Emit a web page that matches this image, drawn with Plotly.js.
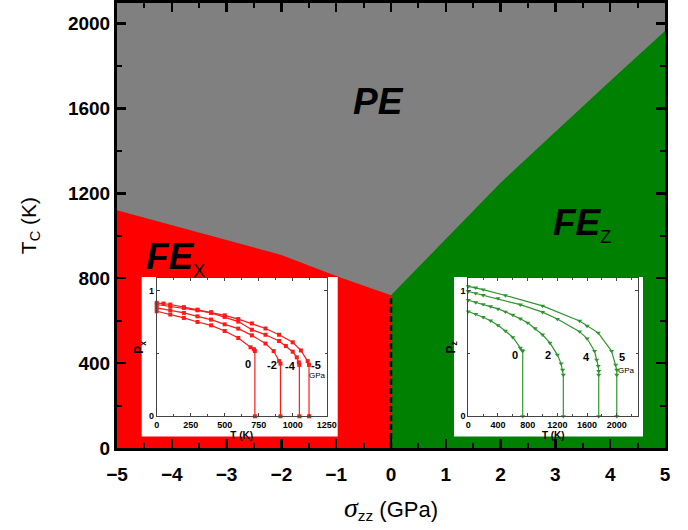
<!DOCTYPE html>
<html><head><meta charset="utf-8">
<script src="https://cdn.plot.ly/plotly-3.0.1.min.js"></script>
<style>html,body{margin:0;padding:0;background:#fff}#chart{width:688px;height:530px}</style>
</head><body><div id="chart"></div>
<script>
// ---- main phase diagram ----
const sigmaRange = [-5, 5];
const tcRange = [0, 2097];
const sigmaFEx = [-5, -2, -1, 0];
const tcFEx = [1120, 910, 810, 720];
const sigmaFEz = [0, 1, 2, 3, 4, 5];
const tcFEz = [720, 985, 1250, 1490, 1730, 1965];

// ---- left inset: Px vs T (stress 0, -2, -4, -5 GPa) ----
const pxLabels = ['0', '-2', '-4', '-5'];
const pxT0 = [0, 100, 200, 300, 400, 500, 600, 690, 715, 722, 722];
const pxP0 = [0.837, 0.811, 0.784, 0.752, 0.725, 0.680, 0.624, 0.550, 0.535, 0.520, 0];
const pxT2 = [0, 100, 200, 300, 400, 500, 600, 700, 800, 860, 900, 910, 910];
const pxP2 = [0.864, 0.845, 0.824, 0.797, 0.771, 0.733, 0.699, 0.645, 0.580, 0.520, 0.440, 0.420, 0];
const pxT4 = [0, 100, 200, 300, 400, 500, 600, 700, 800, 900, 950, 1000, 1030, 1045, 1049, 1049];
const pxP4 = [0.891, 0.877, 0.864, 0.845, 0.824, 0.792, 0.755, 0.690, 0.650, 0.600, 0.560, 0.515, 0.470, 0.430, 0.410, 0];
const pxT5 = [0, 50, 100, 200, 300, 400, 500, 600, 700, 800, 900, 1000, 1060, 1110, 1120, 1120];
const pxP5 = [0.904, 0.899, 0.891, 0.870, 0.850, 0.830, 0.805, 0.775, 0.740, 0.700, 0.650, 0.590, 0.525, 0.440, 0.410, 0];

// ---- right inset: Pz vs T (stress 0, 2, 4, 5 GPa) ----
const pzLabels = ['0', '2', '4', '5'];
const pzT0 = [0, 100, 200, 300, 400, 500, 600, 700, 725, 733, 733];
const pzP0 = [0.835, 0.815, 0.790, 0.762, 0.725, 0.680, 0.630, 0.545, 0.525, 0.520, 0];
const pzT2 = [0, 100, 200, 300, 400, 500, 600, 700, 800, 900, 1000, 1100, 1200, 1250, 1270, 1280, 1280];
const pzP2 = [0.925, 0.908, 0.893, 0.876, 0.856, 0.833, 0.808, 0.778, 0.745, 0.700, 0.650, 0.585, 0.490, 0.420, 0.370, 0.330, 0];
const pzT4 = [0, 100, 200, 400, 700, 1000, 1200, 1500, 1600, 1700, 1730, 1750, 1757, 1757, 1757];
const pzP4 = [0.995, 0.980, 0.965, 0.940, 0.890, 0.830, 0.775, 0.675, 0.620, 0.520, 0.450, 0.400, 0.360, 0.330, 0];
const pzT5 = [0, 100, 200, 500, 1000, 1500, 1600, 1750, 1930, 1985, 2000, 2000, 2000];
const pzP5 = [1.035, 1.025, 1.010, 0.963, 0.880, 0.760, 0.720, 0.665, 0.520, 0.410, 0.370, 0.330, 0];

// ---- layout geometry (pixels) ----
const W = 688, H = 530, ML = 117, MR = 23, MT = 3, MB = 82;
const PW = W - ML - MR, PH = H - MT - MB;
const dx = (a, b) => [(a - ML) / PW, (b - ML) / PW];
const dy = (top, bot) => [(H - MB - bot) / PH, (H - MB - top) / PH];

const FONT = 'Liberation Sans, Arial, sans-serif';
const RED = '#ff1a1a', GREEN = '#2e962e';

const traces = [];
// main regions
traces.push({x: [sigmaRange[0], sigmaRange[1], sigmaRange[1], sigmaRange[0]],
  y: [tcRange[0], tcRange[0], tcRange[1], tcRange[1]],
  mode: 'none', fill: 'toself', fillcolor: '#808080', hoverinfo: 'skip', showlegend: false});
traces.push({x: [sigmaFEx[0]].concat(sigmaFEx, [sigmaFEx[sigmaFEx.length - 1]]),
  y: [0].concat(tcFEx, [0]),
  mode: 'none', fill: 'toself', fillcolor: '#ff0000', hoverinfo: 'skip', showlegend: false});
traces.push({x: [sigmaFEz[0]].concat(sigmaFEz, [sigmaFEz[sigmaFEz.length - 1]]),
  y: [0].concat(tcFEz, [0]),
  mode: 'none', fill: 'toself', fillcolor: '#008000', hoverinfo: 'skip', showlegend: false});
traces.push({x: [0, 0], y: [0, tcFEx[tcFEx.length - 1]], mode: 'lines',
  line: {color: 'black', width: 2.5, dash: '6px,3px'}, hoverinfo: 'skip', showlegend: false});
// white inset boxes (subplots with white background)
traces.push({x: [], y: [], xaxis: 'x2', yaxis: 'y2', mode: 'markers', showlegend: false});
traces.push({x: [], y: [], xaxis: 'x3', yaxis: 'y3', mode: 'markers', showlegend: false});
// inset curves
[[pxT0, pxP0], [pxT2, pxP2], [pxT4, pxP4], [pxT5, pxP5]].forEach(function (c) {
  traces.push({x: c[0], y: c[1], xaxis: 'x4', yaxis: 'y4', mode: 'lines+markers',
    line: {color: RED, width: 1.2}, marker: {color: RED, size: 4, symbol: 'square'},
    showlegend: false, cliponaxis: false});
});
[[pzT0, pzP0], [pzT2, pzP2], [pzT4, pzP4], [pzT5, pzP5]].forEach(function (c) {
  traces.push({x: c[0], y: c[1], xaxis: 'x5', yaxis: 'y5', mode: 'lines+markers',
    line: {color: GREEN, width: 1.2}, marker: {color: GREEN, size: 4.5, symbol: 'triangle-down'},
    showlegend: false, cliponaxis: false});
});

const mainTickFont = {family: FONT, size: 19, color: 'black', weight: 'bold'};
const insetTickFont = {family: FONT, size: 9, color: 'black', weight: 'bold'};
function insetAxis(extra) {
  return Object.assign({showline: true, linecolor: '#444', linewidth: 1, mirror: 'ticks',
    ticks: 'inside', ticklen: 3, tickwidth: 1, tickcolor: '#444', showgrid: false, zeroline: false,
    tickfont: insetTickFont, fixedrange: true, automargin: false}, extra);
}
function hidden(extra) {
  return Object.assign({visible: false, range: [0, 1], fixedrange: true, showgrid: false, zeroline: false}, extra);
}

const ann = [];
ann.push({xref: 'paper', yref: 'paper', x: dx(378, 378)[0], y: dy(101, 101)[0],
  text: '<b><i>PE</i></b>', showarrow: false, font: {family: FONT, size: 37, color: 'black'},
  xanchor: 'center', yanchor: 'middle'});
ann.push({xref: 'paper', yref: 'paper', x: dx(144, 144)[0], y: dy(258, 258)[0],
  text: "<b><i>FE</i></b><sub><span style='font-size:18px'>X</span></sub>", showarrow: false,
  font: {family: FONT, size: 37, color: 'black'}, xanchor: 'left', yanchor: 'middle'});
ann.push({xref: 'paper', yref: 'paper', x: dx(551, 551)[0], y: dy(225, 225)[0],
  text: "<b><i>FE</i></b><sub><span style='font-size:18px'>Z</span></sub>", showarrow: false,
  font: {family: FONT, size: 37, color: 'black'}, xanchor: 'left', yanchor: 'middle'});
// inset curve labels
const pxLabelPos = [[673, 0.418], [845, 0.405], [987, 0.40], [1171, 0.41]];
pxLabels.forEach(function (t, i) {
  ann.push({xref: 'x4', yref: 'y4', x: pxLabelPos[i][0], y: pxLabelPos[i][1], text: '<b>' + t + '</b>',
    showarrow: false, font: {family: FONT, size: 11, color: 'black'}});
});
ann.push({xref: 'x4', yref: 'y4', x: 1184, y: 0.325, text: 'GPa', showarrow: false,
  font: {family: FONT, size: 8, color: 'black'}});
const pzLabelPos = [[629, 0.488], [1078, 0.488], [1586, 0.47], [2067, 0.475]];
pzLabels.forEach(function (t, i) {
  ann.push({xref: 'x5', yref: 'y5', x: pzLabelPos[i][0], y: pzLabelPos[i][1], text: '<b>' + t + '</b>',
    showarrow: false, font: {family: FONT, size: 11, color: 'black'}});
});
ann.push({xref: 'x5', yref: 'y5', x: 2134, y: 0.368, text: 'GPa', showarrow: false,
  font: {family: FONT, size: 8, color: 'black'}});

const layout = {
  width: W, height: H, margin: {l: ML, r: MR, t: MT, b: MB, pad: 0},
  paper_bgcolor: 'white', plot_bgcolor: 'white', showlegend: false,
  font: {family: FONT, color: 'black'},
  xaxis: {domain: [0, 1], range: sigmaRange, anchor: 'y', showline: true, linecolor: 'black', linewidth: 3,
    mirror: 'ticks', ticks: 'inside', ticklen: 9, tickwidth: 2.5, tickcolor: 'black', dtick: 1, tick0: 0,
    minor: {ticks: 'inside', ticklen: 5, tickwidth: 2, tickcolor: 'black', dtick: 0.5, tick0: 0, showgrid: false},
    showgrid: false, zeroline: false, tickfont: mainTickFont, fixedrange: true, automargin: false,
    ticklabelstandoff: 7,
    title: {text: "<span style='font-family:Liberation Serif;font-size:28px'><i>σ</i></span><sub>zz</sub> (GPa)",
      font: {family: FONT, size: 22, color: 'black'}, standoff: 18}},
  yaxis: {domain: [0, 1], range: tcRange, anchor: 'x', showline: true, linecolor: 'black', linewidth: 3,
    mirror: 'ticks', ticks: 'inside', ticklen: 9, tickwidth: 2.5, tickcolor: 'black', dtick: 400, tick0: 0,
    minor: {ticks: 'inside', ticklen: 5, tickwidth: 2, tickcolor: 'black', dtick: 200, tick0: 0, showgrid: false},
    showgrid: false, zeroline: false, tickfont: mainTickFont, fixedrange: true, automargin: false,
    title: {text: 'T<sub>C</sub> (K)', font: {family: FONT, size: 21, color: 'black'}, standoff: 26}},
  xaxis2: hidden({domain: dx(141.7, 337.7), anchor: 'y2'}),
  yaxis2: hidden({domain: dy(277, 436.5), anchor: 'x2'}),
  xaxis3: hidden({domain: dx(454, 643), anchor: 'y3'}),
  yaxis3: hidden({domain: dy(277, 436.5), anchor: 'x3'}),
  xaxis4: insetAxis({domain: dx(156.7, 326.7), anchor: 'y4', range: [0, 1250], dtick: 250, tick0: 0,
    minor: {ticks: 'inside', ticklen: 2, tickwidth: 1, tickcolor: '#444', dtick: 125, tick0: 0},
    title: {text: '<b>T (K)</b>', font: {family: FONT, size: 10, color: 'black'}, standoff: 0}}),
  yaxis4: insetAxis({domain: dy(278.3, 416.3), anchor: 'x4', range: [0, 1.1], dtick: 1, tick0: 0,
    minor: {ticks: 'inside', ticklen: 2, tickwidth: 1, tickcolor: '#444', dtick: 0.5, tick0: 0},
    title: {text: '<b>P<sub>x</sub></b>', font: {family: FONT, size: 12, color: 'black'}, standoff: 2}}),
  xaxis5: insetAxis({domain: dx(468.3, 638.3), anchor: 'y5', range: [0, 2290], dtick: 400, tick0: 0,
    minor: {ticks: 'inside', ticklen: 2, tickwidth: 1, tickcolor: '#444', dtick: 200, tick0: 0},
    title: {text: '<b>T (K)</b>', font: {family: FONT, size: 10, color: 'black'}, standoff: 0}}),
  yaxis5: insetAxis({domain: dy(278.3, 416.3), anchor: 'x5', range: [0, 1.1], dtick: 1, tick0: 0,
    minor: {ticks: 'inside', ticklen: 2, tickwidth: 1, tickcolor: '#444', dtick: 0.5, tick0: 0},
    title: {text: '<b>P<sub>z</sub></b>', font: {family: FONT, size: 12, color: 'black'}, standoff: 2}}),
  annotations: ann
};

Plotly.newPlot('chart', traces, layout, {staticPlot: true, displayModeBar: false});
</script></body></html>
